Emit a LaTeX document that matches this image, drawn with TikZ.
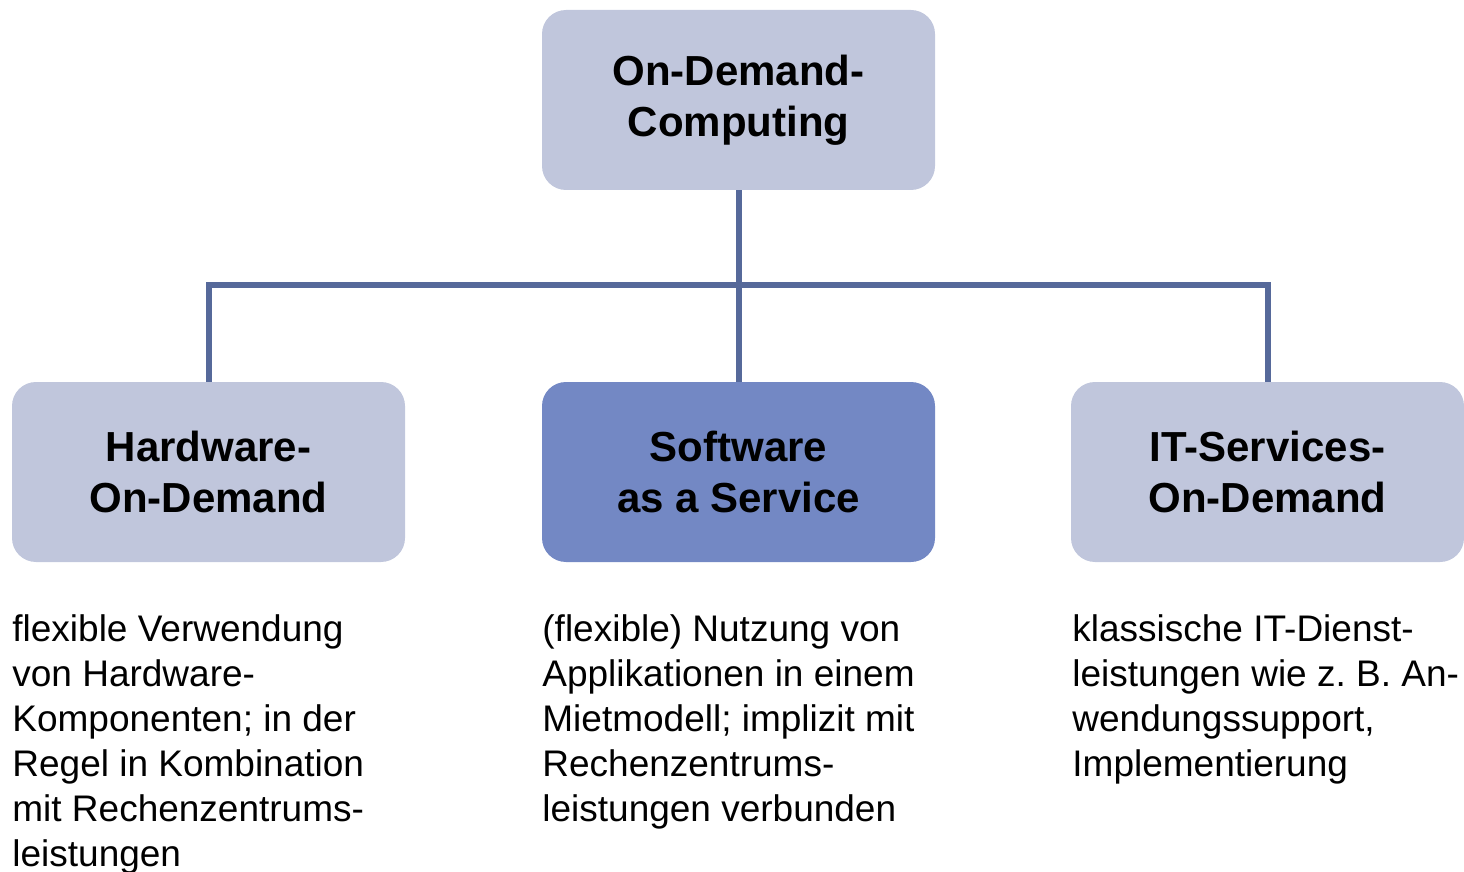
\documentclass[tikz,border=0pt]{standalone}
\usepackage{fontspec}
\setmainfont{Liberation Sans}
\usetikzlibrary{positioning}

\definecolor{boxlight}{HTML}{C0C6DC}
\definecolor{boxdark}{HTML}{7388C4}
\definecolor{linecol}{HTML}{56699A}

\begin{document}
\begin{tikzpicture}[
			x=0.5pt,
			y=-0.5pt,
			box/.style={fill=boxlight, rounded corners=12pt, minimum width=196.5pt, minimum height=90pt,
				align=center, inner sep=0pt, font=\fontsize{21}{25.5}\selectfont\bfseries},
			boxhi/.style={box, fill=boxdark},
			desc/.style={anchor=north west, align=left, inner sep=0pt, font=\fontsize{18.5}{22.5}\selectfont},
			conn/.style={draw=linecol, line width=3pt}
		]

		\useasboundingbox (0,0) rectangle (1464,872);

		% Top node
		\node[box] (odc) at (738.5,100) {\raisebox{-2pt}{On-Demand-}\\\raisebox{-2pt}{Computing}};

		% Bottom nodes
		\node[box] (hw) at (208.5,472) {Hardware-\\On-Demand};
		\node[boxhi] (saas) at (738.5,472) {Software\\as a Service};
		\node[box] (its) at (1267.5,472) {IT-Services-\\On-Demand};

		% Connectors
		\coordinate (bus) at (738.5,285);
		\draw[conn] (odc.south) -- (saas.north);
		\draw[conn] (hw.north) -- (hw.north |- bus) -- (its.north |- bus) -- (its.north);

		% Descriptions
		\node[desc] (hwtext) at (12,614) {flexible Verwendung\\von Hardware-\\Komponenten; in der\\Regel in Kombination\\mit Rechenzentrums-\\leistungen};
		\node[desc] (saastext) at (542,614) {(flexible) Nutzung von\\Applikationen in einem\\Mietmodell; implizit mit\\Rechenzentrums-\\leistungen verbunden};
		\node[desc] (itstext) at (1072,614) {klassische IT-Dienst-\\leistungen wie z.~B. An-\\wendungssupport,\\Implementierung};

	\end{tikzpicture}
\end{document}
